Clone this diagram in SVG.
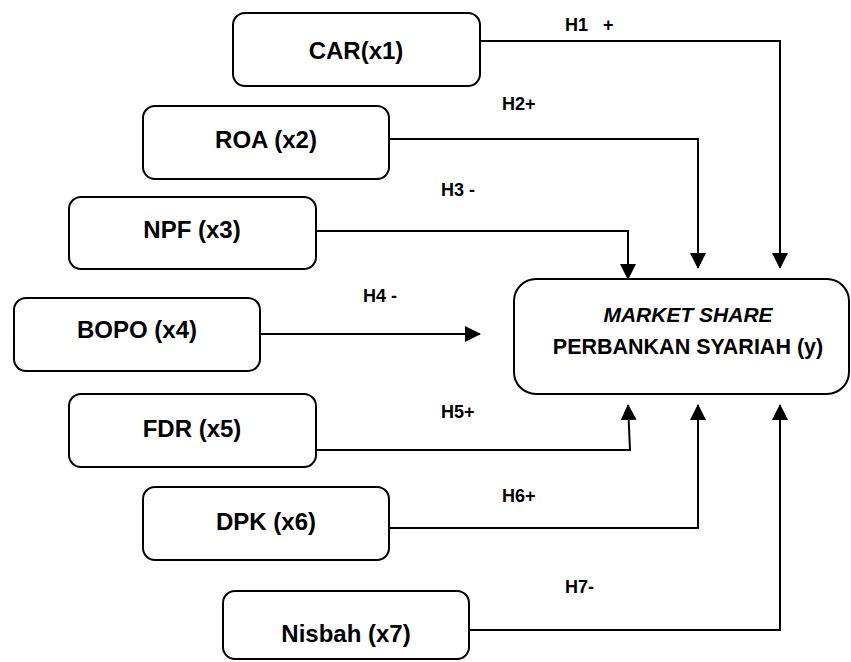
<svg xmlns="http://www.w3.org/2000/svg" width="851" height="662" viewBox="0 0 851 662">
<style>
.box{fill:#fff;stroke:#000;stroke-width:2}
.lbl{font-family:"Liberation Sans",Arial,sans-serif;font-weight:bold;font-size:24px;fill:#000;text-anchor:middle}
.h{font-family:"Liberation Sans",Arial,sans-serif;font-weight:bold;font-size:18px;fill:#000}
.ln{fill:none;stroke:#000;stroke-width:2}
</style>
<defs>
<marker id="ah" markerUnits="userSpaceOnUse" markerWidth="16" markerHeight="16" viewBox="0 0 16 16" refX="15" refY="8" orient="auto">
<path d="M0,0 L16,8 L0,16 Z" fill="#000"/>
</marker>
</defs>
<rect width="851" height="662" fill="#fff"/>
<g id="connectors">
<path class="ln" d="M480,41 H780 V268" marker-end="url(#ah)"/>
<path class="ln" d="M389,139 H698 V268" marker-end="url(#ah)"/>
<path class="ln" d="M316,231 H628 V279" marker-end="url(#ah)"/>
<path class="ln" d="M260,334 H480" marker-end="url(#ah)"/>
<path class="ln" d="M316,450 H630 L628,405" marker-end="url(#ah)"/>
<path class="ln" d="M389,528 H698 V405" marker-end="url(#ah)"/>
<path class="ln" d="M469,630 H780 V405" marker-end="url(#ah)"/>
<text class="h" x="565" y="31" xml:space="preserve">H1   +</text>
<text class="h" x="502" y="110">H2+</text>
<text class="h" x="441" y="196">H3 -</text>
<text class="h" x="363" y="302">H4 -</text>
<text class="h" x="441" y="418">H5+</text>
<text class="h" x="502" y="502">H6+</text>
<text class="h" x="565" y="593">H7-</text>
</g>
<g id="car">
<rect class="box" x="233" y="13" width="247" height="73" rx="12"/>
<text class="lbl" x="356" y="59">CAR(x1)</text>
</g>
<g id="roa">
<rect class="box" x="143" y="106" width="246" height="73" rx="12"/>
<text class="lbl" x="266" y="148">ROA (x2)</text>
</g>
<g id="npf">
<rect class="box" x="69" y="197" width="247" height="72" rx="12"/>
<text class="lbl" x="192" y="238">NPF (x3)</text>
</g>
<g id="bopo">
<rect class="box" x="14" y="298" width="246" height="73" rx="12"/>
<text class="lbl" x="137" y="338">BOPO (x4)</text>
</g>
<g id="fdr">
<rect class="box" x="69" y="394" width="247" height="73" rx="12"/>
<text class="lbl" x="192" y="437">FDR (x5)</text>
</g>
<g id="dpk">
<rect class="box" x="143" y="487" width="246" height="73" rx="12"/>
<text class="lbl" x="266" y="530">DPK (x6)</text>
</g>
<g id="nisbah">
<rect class="box" x="223" y="591" width="246" height="68" rx="12"/>
<text class="lbl" x="346" y="642">Nisbah (x7)</text>
</g>
<g id="market-share">
<rect class="box" x="514" y="279" width="335" height="115" rx="22"/>
<text class="lbl" x="688" y="322" style="font-style:italic;font-size:21px">MARKET SHARE</text>
<text class="lbl" x="688" y="354" style="font-size:21.5px">PERBANKAN SYARIAH (y)</text>
</g>
</svg>
